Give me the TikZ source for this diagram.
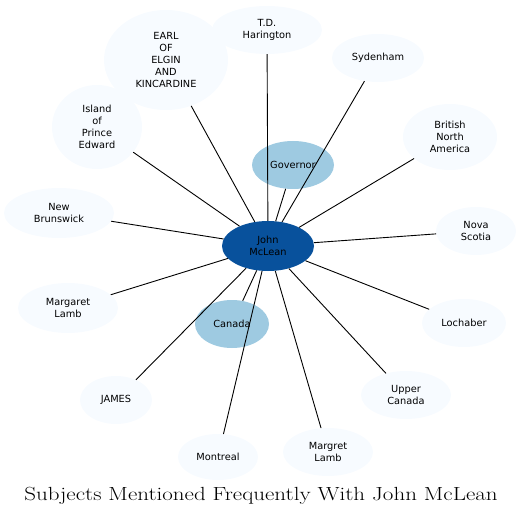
\documentclass[tikz,border=0pt]{standalone}
\usepackage{fontspec}
\newfontfamily\nodefont{DejaVu Sans}
\usetikzlibrary{shapes.geometric}
\tikzset{
  bub/.style={ellipse, draw=none, inner sep=0pt, align=center,
    font=\nodefont\fontsize{9.8}{12}\selectfont, text=black},
  pale/.style={bub, fill=paleblue},
  mid/.style={bub, fill=midblue},
  hub/.style={bub, fill=darkblue},
  link/.style={draw=black, line width=0.9pt},
}
\definecolor{paleblue}{HTML}{F7FBFF}
\definecolor{midblue}{HTML}{9ECAE1}
\definecolor{darkblue}{HTML}{08519C}
\begin{document}
\begin{tikzpicture}[x=1pt,y=-1pt]
\useasboundingbox (0,0) rectangle (521,518);
\node[pale, minimum width=124, minimum height=100] (earl) at (166,60) {EARL\\OF\\ELGIN\\AND\\KINCARDINE};
\node[pale, minimum width=110, minimum height=48] (hari) at (267,30) {T.D.\\Harington};
\node[pale, minimum width=92, minimum height=48] (syd) at (378,58) {Sydenham};
\node[pale, minimum width=94, minimum height=66] (bna) at (450,137) {British\\North\\America};
\node[pale, minimum width=80, minimum height=48] (nova) at (476,231) {Nova\\Scotia};
\node[pale, minimum width=84, minimum height=48] (loch) at (464,323) {Lochaber};
\node[pale, minimum width=90, minimum height=48] (upper) at (406,395) {Upper\\Canada};
\node[pale, minimum width=90, minimum height=48] (margret) at (328,452) {Margret\\Lamb};
\node[pale, minimum width=80, minimum height=46] (mont) at (218,457) {Montreal};
\node[pale, minimum width=72, minimum height=48] (james) at (116,400) {JAMES};
\node[pale, minimum width=100, minimum height=50] (margaret) at (68,308) {Margaret\\Lamb};
\node[pale, minimum width=110, minimum height=50] (newb) at (59,213) {New\\Brunswick};
\node[pale, minimum width=90, minimum height=84] (island) at (97,127) {Island\\of\\Prince\\Edward};
\node[mid, minimum width=82, minimum height=48] (gov) at (293,165) {Governor};
\node[mid, minimum width=74, minimum height=48] (canada) at (232,324) {Canada};
\node[hub, minimum width=92, minimum height=50] (mclean) at (268,246) {John\\McLean};
\foreach \n in {earl,hari,syd,bna,nova,loch,upper,margret,mont,james,margaret,newb,island,gov,canada}
  \draw[link] (mclean) -- (\n);
\node[anchor=base, inner sep=0pt, font=\fontsize{19}{22}\selectfont] (title) at (261,500.5) {\scalebox{1.21}[1]{Subjects Mentioned Frequently With John McLean}};
\end{tikzpicture}
\end{document}
